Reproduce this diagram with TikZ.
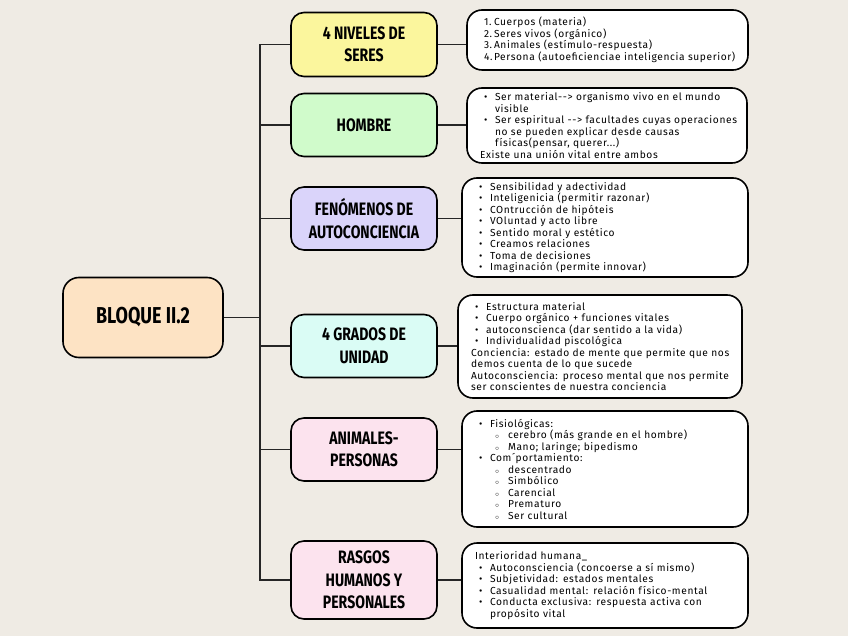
\documentclass[tikz,border=0pt]{standalone}
\usepackage{fontspec}
\usetikzlibrary{positioning}
\newfontfamily\notefont[LetterSpace=6]{Fira Sans}
\newfontfamily\headfont[FakeStretch=0.78]{Fira Sans}
\definecolor{paper}{HTML}{EFEBE4}
\definecolor{peach}{HTML}{FDE3C4}
\definecolor{lemon}{HTML}{FBF69D}
\definecolor{mint}{HTML}{D0FBCB}
\definecolor{lilac}{HTML}{DAD4FA}
\definecolor{aqua}{HTML}{DAFCF5}
\definecolor{blush}{HTML}{FCE3EE}
\newcommand{\bl}{\hspace*{4pt}\makebox[11pt][l]{\textbullet}}
\newcommand{\sbl}{\hspace*{20pt}\makebox[13pt][l]{$\scriptstyle\circ$}}
\newcommand{\ind}{\hspace*{15pt}}
\newcommand{\num}[1]{\hspace*{4pt}\makebox[10pt][l]{#1}}
\tikzset{
  rootbox/.style={rectangle,rounded corners=16pt,draw=black,line width=1.6pt,fill=peach,minimum width=160pt,minimum height=80pt,font=\headfont\bfseries\fontsize{23}{28}\selectfont},
  topic/.style={rectangle,rounded corners=13pt,draw=black,line width=1.6pt,minimum width=146pt,minimum height=63pt,align=center,font=\headfont\bfseries\fontsize{18}{22.5}\selectfont},
  note/.style={rectangle,rounded corners=15pt,draw=black,line width=1.6pt,fill=white,align=left,inner xsep=13pt,inner ysep=3pt,font=\notefont\fontsize{10.2}{11.5}\selectfont},
  link/.style={line width=1.2pt,draw=black!85}
}

\begin{document}
\begin{tikzpicture}[x=1pt,y=-1pt]
\fill[paper] (0,0) rectangle (848,636);
\node[rootbox] (root) at (143,317.5) {BLOQUE II.2};
\coordinate (trunk) at (260,317.5);
\node[topic,fill=lemon,minimum height=64pt] (niveles) at (364,44.5) {4 NIVELES DE\\SERES};
\node[topic,fill=mint] (hombre) at (364,125) {HOMBRE};
\node[topic,fill=lilac] (fenomenos) at (364,218.5) {FENÓMENOS DE\\AUTOCONCIENCIA};
\node[topic,fill=aqua] (grados) at (364,346) {4 GRADOS DE\\UNIDAD};
\node[topic,fill=blush] (animales) at (364,449.5) {ANIMALES-\\PERSONAS};
\node[topic,fill=blush,minimum height=78pt] (rasgos) at (364,580) {RASGOS\\HUMANOS Y\\PERSONALES};
% notes
\node[note,text width=255pt,minimum height=60pt] (d1) at (607.5,40) {%
\num{1.}Cuerpos (materia)\\
\num{2.}Seres vivos (orgánico)\\
\num{3.}Animales (estímulo-respuesta)\\
\num{4.}Persona (autoeficienciae inteligencia superior)};
\node[note,text width=254pt,minimum height=75pt] (d2) at (607,125.5) {%
\bl Ser material{-}{-}> organismo vivo en el mundo\\
\ind visible\\
\bl Ser espiritual {-}{-}> facultades cuyas operaciones\\
\ind no se pueden explicar desde causas\\
\ind físicas(pensar, querer...)\\
Existe una unión vital entre ambos};
\node[note,text width=260pt,minimum height=99pt] (d3) at (605,227.5) {%
\bl Sensibilidad y adectividad\\
\bl Inteligenicia (permitir razonar)\\
\bl COntrucción de hipóteis\\
\bl VOluntad y acto libre\\
\bl Sentido moral y estético\\
\bl Creamos relaciones\\
\bl Toma de decisiones\\
\bl Imaginación (permite innovar)};
\node[note,text width=258pt,minimum height=103pt] (d4) at (600,346.5) {%
\bl Estructura material\\
\bl Cuerpo orgánico + funciones vitales\\
\bl autoconscienca (dar sentido a la vida)\\
\bl Individualidad piscológica\\
Conciencia: estado de mente que permite que nos\\
demos cuenta de lo que sucede\\
Autoconsciencia: proceso mental que nos permite\\
ser conscientes de nuestra conciencia};
\node[note,text width=260pt,minimum height=116pt] (d5) at (605,469) {%
\bl Fisiológicas:\\
\sbl cerebro (más grande en el hombre)\\
\sbl Mano; laringe; bipedismo\\
\bl Com´portamiento:\\
\sbl descentrado\\
\sbl Simbólico\\
\sbl Carencial\\
\sbl Prematuro\\
\sbl Ser cultural};
\node[note,text width=260pt,minimum height=85pt] (d6) at (605,585.5) {%
Interioridad humana\_\\
\bl Autoconsciencia (concoerse a sí mismo)\\
\bl Subjetividad: estados mentales\\
\bl Casualidad mental: relación físico-mental\\
\bl Conducta exclusiva: respuesta activa con\\
\ind propósito vital};
% connectors
\draw[link] (root) -- (trunk);
\foreach \t in {niveles,hombre,fenomenos,grados,animales,rasgos}
  \draw[link] (trunk) |- (\t);
\foreach \t/\d in {niveles/d1,hombre/d2,fenomenos/d3,grados/d4,animales/d5,rasgos/d6}
  \draw[link] (\t) -- (\t -| \d.west);
\end{tikzpicture}
\end{document}
